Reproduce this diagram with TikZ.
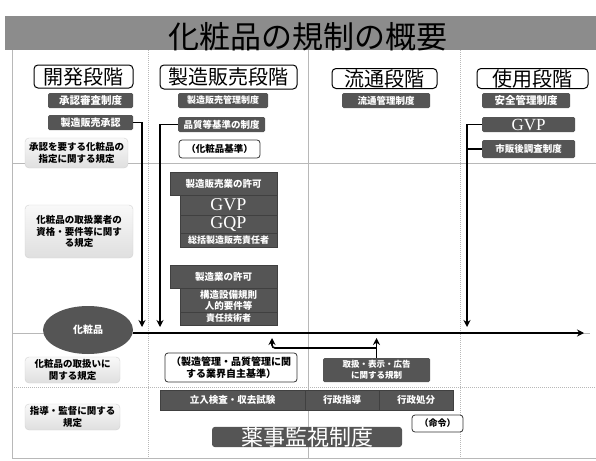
\documentclass[tikz,border=0pt]{standalone}
\usepackage{fontspec}
\setmainfont{Noto Sans CJK JP}
\newfontfamily\serifg{Liberation Serif}
\usetikzlibrary{arrows.meta,shapes.geometric}
\definecolor{dk}{HTML}{555555}
\definecolor{band}{HTML}{8C8C8C}
\definecolor{gridc}{HTML}{B8B8B8}
\newcommand\fs[2]{\fontsize{#1}{#2}\selectfont}
\tikzset{
  sz/.style 2 args={minimum width=#1pt,minimum height=#2pt},
  dark/.style={fill=dk, rounded corners=1.5pt, text=white, inner sep=0pt, font=\bfseries\fs{9.5}{11}, align=center},
  row/.style={fill=dk, draw=black!75, line width=0.5pt, text=white, inner sep=0pt, font=\bfseries\fs{9}{11}, align=center},
  hdr/.style={draw=black, line width=1pt, fill=white, rounded corners=4pt, inner sep=0pt, font=\fs{20}{22}},
  lite/.style={draw=gray!35, rounded corners=4pt, top color=gray!5, bottom color=gray!25, inner sep=0pt, font=\bfseries\fs{9.5}{11.5}, align=center},
  wbox/.style={draw=black!80, line width=0.8pt, fill=white, rounded corners=3pt, inner sep=0pt, font=\bfseries\fs{9.5}{11.5}, align=center},
  flow/.style={line width=1.6pt, -{Stealth[length=7pt,width=7pt]}},
  link/.style={line width=1.6pt},
  gridline/.style={draw=gridc, line width=0.6pt},
  dotline/.style={draw=gridc, line width=0.8pt, dash pattern=on 1pt off 1pt}
}
\begin{document}
\begin{tikzpicture}[x=1pt,y=-1pt]
\useasboundingbox (0,0) rectangle (596,460);
% title band
\fill[band] (5,16) rectangle (596,50);
\node[font=\fs{31}{32}] (title) at (308,37) {化粧品の規制の概要};
% table lines
\draw[gridline] (12,50) -- (12,458) -- (596,458);
\draw[gridline] (12,163) -- (596,163);
\draw[gridline] (12,333) -- (590,333);
\draw[dotline] (12,387) -- (596,387);
\draw[dotline] (148,50) -- (148,458);
\draw[gridline] (308,50) -- (308,458);
\draw[dotline] (460,50) -- (460,458);
% headers
\node[hdr, sz={99}{23}] (h1) at (83.5,76.5) {開発段階};
\node[hdr, sz={137}{24}] (h2) at (228.5,77) {製造販売段階};
\node[hdr, sz={105}{20}] (h3) at (384.5,78.5) {流通段階};
\node[hdr, sz={111}{20}] (h4) at (532.5,78.5) {使用段階};
% sub labels
\node[dark, sz={85}{15}, font=\bfseries\fs{10.5}{12}] (s1) at (90.5,100.5) {承認審査制度};
\node[dark, sz={90}{15}, font=\bfseries\fs{9}{11}] (s2) at (223,100.5) {製造販売管理制度};
\node[dark, sz={88}{15}, font=\bfseries\fs{9.5}{11}] (s3) at (386,100.5) {流通管理制度};
\node[dark, sz={88}{15}, font=\bfseries\fs{10.5}{12}] (s4) at (526,100.5) {安全管理制度};
% column 1
\node[dark, sz={85}{15}, font=\bfseries\fs{10}{12}] (appr) at (90.5,122.5) {製造販売承認};
\node[lite, sz={103}{30}] (spec) at (76.5,153) {承認を要する化粧品の\\指定に関する規定};
\node[lite, sz={108}{53}] (qual) at (79,231.5) {化粧品の取扱業者の\\資格・要件等に関す\\る規定};
\node[ellipse, fill=dk, sz={90}{48}, inner sep=0pt, text=white, font=\bfseries\fs{10}{12}] (cosm) at (88,330) {化粧品};
\node[lite, sz={95}{26}] (handle) at (72.5,370) {化粧品の取扱いに\\関する規定};
\node[lite, sz={95}{26}] (guide) at (72.5,417) {指導・監督に関する\\規定};
% column 2
\node[dark, sz={87}{15}] (qstd) at (221.5,124.5) {品質等基準の制度};
\node[wbox, sz={81}{18}] (cstd) at (219.5,149) {（化粧品基準）};
\node[row, sz={107}{23}, font=\bfseries\fs{9.5}{11}] (perm1) at (223.5,183.5) {製造販売業の許可};
\node[row, sz={97}{20}, font=\serifg\fs{18}{18}] (gvp2) at (228.5,205) {GVP};
\node[row, sz={97}{18}, font=\serifg\fs{18}{18}] (gqp) at (228.5,224) {GQP};
\node[row, sz={97}{14}] (resp) at (228.5,240) {総括製造販売責任者};
\node[row, sz={107}{23}, font=\bfseries\fs{9.5}{11}] (perm2) at (223.5,276.5) {製造業の許可};
\node[row, sz={97}{24}, font=\bfseries\fs{9.5}{11}] (struct) at (228.5,300) {構造設備規則\\人的要件等};
\node[row, sz={97}{13}] (tech) at (228.5,318.5) {責任技術者};
% column 4
\node[dark, sz={93}{15}, font=\serifg\fs{17}{17}] (gvp4) at (528.5,124.5) {GVP};
\node[dark, sz={93}{18}] (post) at (528.5,149) {市販後調査制度};
% lower part
\node[wbox, sz={132}{29}, font=\bfseries\fs{10}{12}] (self) at (231,367.5) {（製造管理・品質管理に関\\する業界自主基準）};
\node[dark, sz={107}{24}, font=\bfseries\fs{8.5}{10.5}] (adv) at (376.5,370) {取扱・表示・広告\\に関する規制};
\node[row, sz={145}{20}, font=\bfseries\fs{9.5}{11}] (insp) at (232.5,400) {立入検査・収去試験};
\node[row, sz={74}{20}, font=\bfseries\fs{9.5}{11}] (gd) at (342,400) {行政指導};
\node[row, sz={74}{20}, font=\bfseries\fs{9.5}{11}] (disp) at (416,400) {行政処分};
\node[wbox, sz={51}{17}, font=\bfseries\fs{9}{11}] (order) at (437.5,423.5) {（命令）};
\node[dark, sz={190}{20}, rounded corners=3pt, font=\fs{22}{22}] (yakuji) at (307,437) {薬事監視制度};
% connectors
\coordinate (mainend) at (584,333);
\coordinate (a1end) at (142,327);
\coordinate (a2end) at (160,327);
\coordinate (a4end) at (467,327);
\coordinate (up1) at (272,338);
\coordinate (up2) at (376.5,338);
\coordinate (br) at (376.5,348);
\draw[flow] (cosm.east |- mainend) -- (mainend);
\draw[flow] (appr.east) -| (a1end);
\draw[flow] (qstd.west) -| (a2end);
\draw[flow] (gvp4.west) -| (a4end);
\draw[link] (post.west) -- (post.west -| a4end);
\draw[flow] (adv.north) -- (up2);
\draw[flow, rounded corners=3pt] (br) -| (up1);
\end{tikzpicture}
\end{document}
